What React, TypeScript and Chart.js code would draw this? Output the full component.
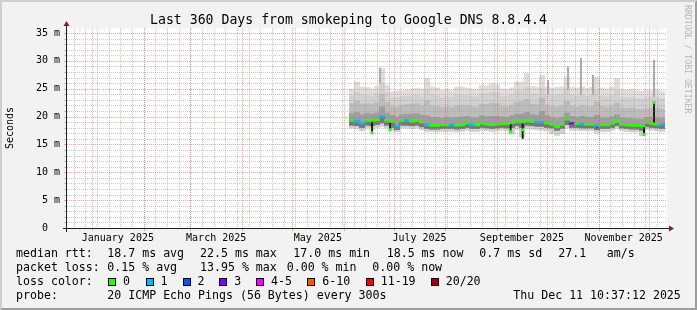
import React, { useEffect, useRef } from 'react';
import { Chart, registerables } from 'chart.js';

Chart.register(...registerables);

const FONT = '"DejaVu Sans Mono", monospace';

// x values are days of 2025 (0 = 1 January 2025); each bin spans 3 days
const days = [
  156, 159, 162, 165, 168, 171, 174, 177, 180, 183,
  186, 189, 192, 195, 198, 201, 204, 207, 210, 213,
  216, 219, 222, 225, 228, 231, 234, 237, 240, 243,
  246, 249, 252, 255, 258, 261, 264, 267, 270, 273,
  276, 279, 282, 285, 288, 291, 294, 297, 300, 303,
  306, 309, 312, 315, 318, 321, 324, 327, 330, 333,
  336, 339, 342,
];

// median rtt (ms)
const median = [
  19.3, 19.2, 18.8, 19.3, 19.3, 19.4, 20.0, 19.3, 19.1, 18.3,
  19.3, 19.3, 19.2, 19.3, 19.0, 18.5, 18.4, 18.4, 18.5, 18.5,
  18.5, 18.4, 18.5, 18.8, 18.5, 18.5, 18.8, 18.6, 18.5, 18.6,
  18.7, 18.7, 18.9, 19.1, 19.0, 19.2, 19.1, 19.0, 19.0, 18.8,
  18.6, 18.2, 18.6, 19.5, 18.8, 18.7, 18.6, 18.6, 18.6, 18.3,
  18.5, 18.5, 18.8, 19.1, 18.6, 18.5, 18.4, 18.4, 18.3, 18.9,
  18.7, 18.6, 18.5,
];

// lost pings out of 20
const lossCount = [
  0, 1, 1, 0, 0, 0, 1, 0, 0, 1,
  0, 1, 0, 0, 0, 1, 0, 0, 0, 0,
  1, 0, 0, 0, 1, 0, 0, 0, 0, 0,
  0, 0, 0, 0, 0, 0, 0, 1, 1, 0,
  0, 0, 0, 0, 3, 0, 1, 0, 0, 1,
  0, 0, 0, 0, 0, 0, 0, 0, 0, 0,
  0, 0, 1,
];

// smoke (ms)
const smokeMax = [
  25.0, 26.3, 25.4, 25.3, 25.0, 25.5, 28.7, 25.7, 24.5, 24.6,
  24.7, 24.8, 25.0, 25.1, 25.0, 26.9, 25.4, 25.2, 24.8, 24.9,
  24.7, 25.3, 25.4, 25.2, 25.0, 24.9, 25.7, 25.6, 26.0, 25.8,
  25.0, 24.9, 25.2, 26.3, 26.3, 27.8, 25.5, 25.3, 27.5, 25.4,
  25.2, 25.3, 25.4, 27.2, 25.3, 25.2, 25.4, 25.1, 25.3, 27.1,
  25.2, 25.0, 25.3, 26.9, 24.9, 24.8, 24.9, 24.7, 24.6, 24.8,
  24.7, 24.9, 24.6,
];
const smokeP90 = [
  23.8, 24.5, 24.0, 23.9, 23.7, 24.2, 26.0, 24.3, 23.4, 23.5,
  23.6, 23.7, 23.8, 23.9, 23.6, 24.8, 24.0, 23.8, 23.5, 23.6,
  23.5, 23.9, 24.0, 23.8, 23.7, 23.6, 24.2, 24.1, 24.4, 24.3,
  23.7, 23.6, 23.9, 24.6, 24.7, 25.3, 24.1, 24.0, 25.2, 24.0,
  23.8, 23.9, 24.0, 24.9, 23.9, 23.8, 24.0, 23.7, 23.9, 24.8,
  23.8, 23.6, 23.9, 24.7, 23.5, 23.4, 23.5, 23.3, 23.2, 23.4,
  23.5, 23.5, 23.3,
];
const smokeP75 = [
  22.4, 22.8, 22.3, 22.4, 22.2, 22.6, 24.0, 22.6, 21.9, 21.8,
  22.1, 22.2, 22.3, 22.4, 22.0, 22.9, 22.0, 21.9, 21.7, 21.8,
  21.7, 22.0, 22.1, 22.0, 21.8, 21.8, 22.3, 22.2, 22.5, 22.4,
  21.9, 21.8, 22.1, 22.6, 22.8, 23.2, 22.3, 22.2, 23.4, 22.1,
  21.9, 21.8, 22.0, 22.8, 22.0, 21.8, 22.1, 21.8, 21.9, 22.7,
  21.9, 21.7, 21.9, 22.5, 21.6, 21.5, 21.6, 21.4, 21.3, 21.5,
  21.6, 21.6, 21.4,
];
const smokeP60 = [
  20.6, 20.8, 20.4, 20.6, 20.5, 20.7, 21.8, 20.7, 20.3, 20.0,
  20.4, 20.5, 20.5, 20.6, 20.3, 20.2, 19.9, 19.9, 19.8, 19.9,
  19.8, 19.9, 20.0, 20.1, 19.8, 19.8, 20.2, 20.0, 20.1, 20.1,
  20.0, 19.9, 20.2, 20.5, 20.5, 20.8, 20.4, 20.3, 21.0, 20.2,
  19.9, 19.7, 19.9, 20.7, 20.1, 19.9, 20.1, 19.9, 19.9, 20.3,
  19.8, 19.8, 20.0, 20.4, 19.8, 19.7, 19.7, 19.6, 19.6, 19.9,
  19.9, 19.8, 19.7,
];
const smokeP10 = [
  18.4, 18.3, 18.0, 18.4, 18.3, 18.5, 18.8, 18.4, 18.0, 17.6,
  18.4, 18.4, 18.3, 18.4, 18.1, 17.8, 17.7, 17.7, 17.8, 17.8,
  17.8, 17.7, 17.8, 18.0, 17.8, 17.8, 18.0, 17.9, 17.8, 17.9,
  18.0, 17.9, 18.0, 18.3, 18.0, 18.4, 18.3, 18.2, 18.2, 18.0,
  17.9, 17.5, 17.8, 18.5, 18.0, 18.0, 17.9, 17.9, 17.9, 17.6,
  17.8, 17.8, 18.0, 18.3, 17.9, 17.8, 17.7, 17.7, 17.5, 18.1,
  18.0, 17.9, 17.8,
];
const smokeMin = [
  17.9, 17.8, 17.4, 17.9, 17.6, 18.0, 18.2, 17.9, 17.4, 17.2,
  17.9, 17.9, 17.8, 17.9, 17.6, 17.3, 17.3, 17.2, 17.3, 17.3,
  17.3, 17.2, 17.3, 17.5, 17.3, 17.3, 17.5, 17.4, 17.3, 17.4,
  17.5, 17.4, 16.8, 17.7, 16.3, 17.8, 17.7, 17.6, 17.5, 17.4,
  16.9, 16.6, 16.9, 17.9, 17.5, 17.5, 17.4, 17.4, 17.4, 17.0,
  17.3, 17.3, 17.5, 17.8, 17.4, 17.3, 17.2, 17.2, 16.5, 17.6,
  17.5, 17.4, 17.3,
];

// short excursions of the median (dark lines) and their tips
const dipDays = [168, 178.8, 251.2, 258.4, 303, 331.2, 337.2];
const dipLow = [17.1, 17.6, 17.3, 16.0, 17.9, 16.7, 18.7];
const dipHigh = [19.3, 19.2, 18.8, 19.0, 18.5, 18.4, 22.5];
const tipDays = [168, 178.8, 251.2, 258.4, 331.2, 337.2];
const tipValues = [17.1, 17.6, 17.3, 17.6, 16.8, 22.5];

// thin smoke spikes
const streakDays = [172.8, 273.6, 285.6, 293.4, 300.6, 337.2];
const streakLow = [19.6, 19.2, 19.0, 19.0, 19.0, 22.5];
const streakHigh = [28.8, 26.5, 29.0, 30.5, 27.5, 30.2];

const lossColors = ['#26ff00', '#00b8ff', '#0059ff', '#7e00ff', '#ff00ff', '#ff5500', '#ff0000', '#a10000'];
const lossLabels = ['0', '1', '2', '3', '4-5', '6-10', '11-19', '20/20'];

const monthStarts = [0, 31, 59, 90, 120, 151, 181, 212, 243, 273, 304, 334];
const monthLabelDays = [15.5, 74.5, 135.5, 196.5, 258, 319];
const monthLabels = ['January 2025', 'March 2025', 'May 2025', 'July 2025', 'September 2025', 'November 2025'];
const yTickValues = [0, 5, 10, 15, 20, 25, 30, 35];
const yTickLabels = ['0  ', '5 m', '10 m', '15 m', '20 m', '25 m', '30 m', '35 m'];

const TITLE = 'Last 360 Days from smokeping to Google DNS 8.8.4.4';
const Y_TITLE = 'Seconds';
const WATERMARK = 'RRDTOOL / TOBI OETIKER';
const rttStats = ['18.7 ms avg', '22.5 ms max', '17.0 ms min', '18.5 ms now', '0.7 ms sd'];
const amsValue = '27.1';
const lossStats = ['0.15 % avg', '13.95 % max', '0.00 % min', '0.00 % now'];
const probeText = '20 ICMP Echo Pings (56 Bytes) every 300s';
const dateText = 'Thu Dec 11 10:37:12 2025';

const X_MIN = -15;
const X_MAX = 345;
const Y_MAX = 35.9;
const WEEK_GRID_START = -11;

function lossIndex(n: number) {
  if (n <= 3) return n;
  if (n <= 5) return 4;
  if (n <= 10) return 5;
  if (n < 20) return 6;
  return 7;
}

const rrdPlugin = {
  id: 'rrdLook',
  beforeDraw(chart: any) {
    const { ctx, width, height, chartArea: a } = chart;
    ctx.save();
    ctx.fillStyle = '#f2f2f2';
    ctx.fillRect(0, 0, width, height);
    ctx.fillStyle = '#cfcfcf';
    ctx.beginPath();
    ctx.moveTo(0, height);
    ctx.lineTo(2, height - 2);
    ctx.lineTo(2, 2);
    ctx.lineTo(width - 2, 2);
    ctx.lineTo(width, 0);
    ctx.lineTo(0, 0);
    ctx.closePath();
    ctx.fill();
    ctx.fillStyle = '#9e9e9e';
    ctx.beginPath();
    ctx.moveTo(2, height - 2);
    ctx.lineTo(width - 2, height - 2);
    ctx.lineTo(width - 2, 2);
    ctx.lineTo(width, 0);
    ctx.lineTo(width, height);
    ctx.lineTo(0, height);
    ctx.closePath();
    ctx.fill();
    ctx.fillStyle = '#ffffff';
    ctx.fillRect(a.left, a.top, a.right - a.left, a.bottom - a.top);
    ctx.restore();
  },
  afterDatasetsDraw(chart: any) {
    const { ctx, chartArea: a, scales } = chart;
    const xs = scales.x;
    const ys = scales.y;
    const L = a.left, R = a.right, T = a.top, B = a.bottom;
    const minorCol = 'rgba(150,150,150,0.5)';
    const majorCol = 'rgba(225,80,80,0.5)';
    ctx.save();
    ctx.lineWidth = 1;
    ctx.setLineDash([1, 1]);
    ctx.strokeStyle = minorCol;
    for (let v = 1; v < Y_MAX; v++) {
      if (v % 5 === 0) continue;
      const py = Math.round(ys.getPixelForValue(v)) + 0.5;
      ctx.beginPath(); ctx.moveTo(L, py); ctx.lineTo(R, py); ctx.stroke();
    }
    for (let d = WEEK_GRID_START; d <= X_MAX; d += 7) {
      const px = Math.round(xs.getPixelForValue(d)) + 0.5;
      if (px <= L || px >= R) continue;
      ctx.beginPath(); ctx.moveTo(px, T); ctx.lineTo(px, B); ctx.stroke();
    }
    ctx.strokeStyle = majorCol;
    yTickValues.forEach((v) => {
      if (v === 0) return;
      const py = Math.round(ys.getPixelForValue(v)) + 0.5;
      ctx.beginPath(); ctx.moveTo(L, py); ctx.lineTo(R, py); ctx.stroke();
    });
    monthStarts.forEach((d) => {
      const px = Math.round(xs.getPixelForValue(d)) + 0.5;
      if (px <= L || px >= R) return;
      ctx.beginPath(); ctx.moveTo(px, T); ctx.lineTo(px, B); ctx.stroke();
    });
    // ticks
    ctx.setLineDash([]);
    for (let v = 1; v < Y_MAX; v++) {
      const py = Math.round(ys.getPixelForValue(v)) + 0.5;
      ctx.strokeStyle = v % 5 === 0 ? majorCol : minorCol;
      ctx.beginPath(); ctx.moveTo(L - 3, py); ctx.lineTo(L - 1, py); ctx.stroke();
    }
    ctx.strokeStyle = majorCol;
    monthStarts.forEach((d) => {
      const px = Math.round(xs.getPixelForValue(d)) + 0.5;
      ctx.beginPath(); ctx.moveTo(px, B + 1); ctx.lineTo(px, B + 3); ctx.stroke();
    });
    // axes
    ctx.strokeStyle = '#1f1f1f';
    ctx.beginPath(); ctx.moveTo(L - 4, B + 0.5); ctx.lineTo(R + 4, B + 0.5); ctx.stroke();
    ctx.beginPath(); ctx.moveTo(L - 0.5, B + 4); ctx.lineTo(L - 0.5, T - 4); ctx.stroke();
    ctx.fillStyle = '#801f1f';
    ctx.beginPath();
    ctx.moveTo(R + 2, B + 0.5 - 3); ctx.lineTo(R + 2, B + 0.5 + 3); ctx.lineTo(R + 7, B + 0.5);
    ctx.closePath(); ctx.fill();
    ctx.beginPath();
    ctx.moveTo(L - 0.5 - 3, T - 2); ctx.lineTo(L - 0.5 + 3, T - 2); ctx.lineTo(L - 0.5, T - 7);
    ctx.closePath(); ctx.fill();
    ctx.restore();
  },
  afterDraw(chart: any) {
    const { ctx, chartArea: a, scales, width } = chart;
    const xs = scales.x;
    const ys = scales.y;
    ctx.save();
    ctx.fillStyle = '#000';
    // title
    ctx.font = `13.2px ${FONT}`;
    ctx.textAlign = 'center';
    ctx.textBaseline = 'alphabetic';
    ctx.fillText(TITLE, width / 2, 24);
    // y tick labels
    ctx.font = `10px ${FONT}`;
    ctx.textAlign = 'right';
    ctx.textBaseline = 'middle';
    yTickValues.forEach((v, i) => ctx.fillText(yTickLabels[i], a.left - 7, ys.getPixelForValue(v)));
    // x labels
    ctx.textAlign = 'center';
    monthLabelDays.forEach((d, i) => ctx.fillText(monthLabels[i], xs.getPixelForValue(d), a.bottom + 10));
    // y title
    ctx.save();
    ctx.translate(10, (a.top + a.bottom) / 2);
    ctx.rotate(-Math.PI / 2);
    ctx.textAlign = 'center';
    ctx.fillText(Y_TITLE, 0, 0);
    ctx.restore();
    // watermark
    ctx.save();
    ctx.translate(width - 6, 5);
    ctx.rotate(Math.PI / 2);
    ctx.font = `8.2px ${FONT}`;
    ctx.fillStyle = 'rgba(0,0,0,0.27)';
    ctx.textAlign = 'left';
    ctx.textBaseline = 'top';
    ctx.fillText(WATERMARK, 0, 0);
    ctx.restore();
    // legend
    ctx.font = `11.6px ${FONT}`;
    ctx.textAlign = 'left';
    ctx.textBaseline = 'middle';
    const r1 = 254, r2 = 268, r3 = 282, r4 = 296;
    ctx.fillText('median rtt:', 16, r1);
    const rttX = [107.3, 200, 293.3, 386.7, 479.3];
    rttStats.forEach((s, i) => ctx.fillText(s, rttX[i], r1));
    ctx.fillText(amsValue, 558.3, r1);
    ctx.fillText('am/s', 606.7, r1);
    ctx.fillText('packet loss:', 16, r2);
    const lossX = [107.3, 200, 286.7, 372.3];
    lossStats.forEach((s, i) => ctx.fillText(s, lossX[i], r2));
    ctx.fillText('loss color:', 16, r3);
    const boxX = [108, 145.5, 182.5, 219.3, 256, 307.3, 365.7, 430.7];
    lossLabels.forEach((lbl, i) => {
      const bx = Math.round(boxX[i]);
      ctx.fillStyle = lossColors[i];
      ctx.fillRect(bx, r3 - 4, 8, 8);
      ctx.strokeStyle = '#000';
      ctx.lineWidth = 1;
      ctx.strokeRect(bx + 0.5, r3 - 3.5, 7, 7);
      ctx.fillStyle = '#000';
      ctx.fillText(lbl, boxX[i] + 15, r3);
    });
    ctx.fillText('probe:', 16, r4);
    ctx.fillText(probeText, 107.3, r4);
    ctx.fillText(dateText, 513.3, r4);
    ctx.restore();
  },
};

export default function App() {
  const ref = useRef<HTMLCanvasElement>(null);
  useEffect(() => {
    const canvas = ref.current;
    if (!canvas) return;
    const layer = (lo: number[], hi: number[], color: string, order: number) => ({
      type: 'bar' as const,
      data: days.map((d, i) => ({ x: d, y: [lo[i], hi[i]] })),
      backgroundColor: color,
      borderWidth: 0,
      barThickness: 6,
      grouped: false,
      inflateAmount: 0,
      order,
    });
    const datasets: any[] = [
      layer(smokeMin, smokeMax, '#dedede', 10),
      {
        type: 'bar',
        data: streakDays.map((d, i) => ({ x: d, y: [streakLow[i], streakHigh[i]] })),
        backgroundColor: '#acacac',
        borderWidth: 0,
        barThickness: 2,
        grouped: false,
        inflateAmount: 0,
        order: 9.5,
      },
      layer(smokeMin, smokeP90, '#d1d1d1', 9),
      layer(smokeP10, smokeP75, '#bcbcbc', 8),
      layer(smokeP10, smokeP60, '#9e9e9e', 7),
      layer(smokeP10, median, '#767676', 6),
      {
        type: 'bar',
        data: dipDays.map((d, i) => ({ x: d, y: [dipLow[i], dipHigh[i]] })),
        backgroundColor: '#1e1e1e',
        borderWidth: 0,
        barThickness: 2,
        grouped: false,
        inflateAmount: 0,
        order: 3,
      },
      {
        type: 'line',
        data: days.map((d, i) => ({ x: d, y: median[i] })),
        showLine: false,
        pointStyle: 'line',
        pointRadius: 3,
        pointHoverRadius: 3,
        pointBorderWidth: 2.5,
        pointBorderColor: lossCount.map((n) => lossColors[lossIndex(n)]),
        pointBackgroundColor: lossCount.map((n) => lossColors[lossIndex(n)]),
        order: 2,
      },
      {
        type: 'line',
        data: tipDays.map((d, i) => ({ x: d, y: tipValues[i] })),
        showLine: false,
        pointStyle: 'line',
        pointRadius: 1.5,
        pointHoverRadius: 1.5,
        pointBorderWidth: 3,
        pointBorderColor: lossColors[0],
        pointBackgroundColor: lossColors[0],
        order: 1,
      },
    ];
    const chart = new Chart(canvas, {
      type: 'bar',
      data: { datasets },
      options: {
        responsive: false,
        animation: false,
        devicePixelRatio: 1,
        events: [],
        layout: { padding: { left: 67, right: 30, top: 28, bottom: 82 } },
        plugins: { legend: { display: false }, tooltip: { enabled: false } },
        scales: {
          x: { type: 'linear', min: X_MIN, max: X_MAX, display: false, offset: false, grid: { offset: false } },
          y: { type: 'linear', min: 0, max: Y_MAX, display: false },
        },
      } as any,
      plugins: [rrdPlugin],
    } as any);
    return () => chart.destroy();
  }, []);
  return (
    <canvas
      ref={ref}
      width={697}
      height={310}
      style={{ position: 'absolute', left: 0, top: 0, display: 'block' }}
    />
  );
}
